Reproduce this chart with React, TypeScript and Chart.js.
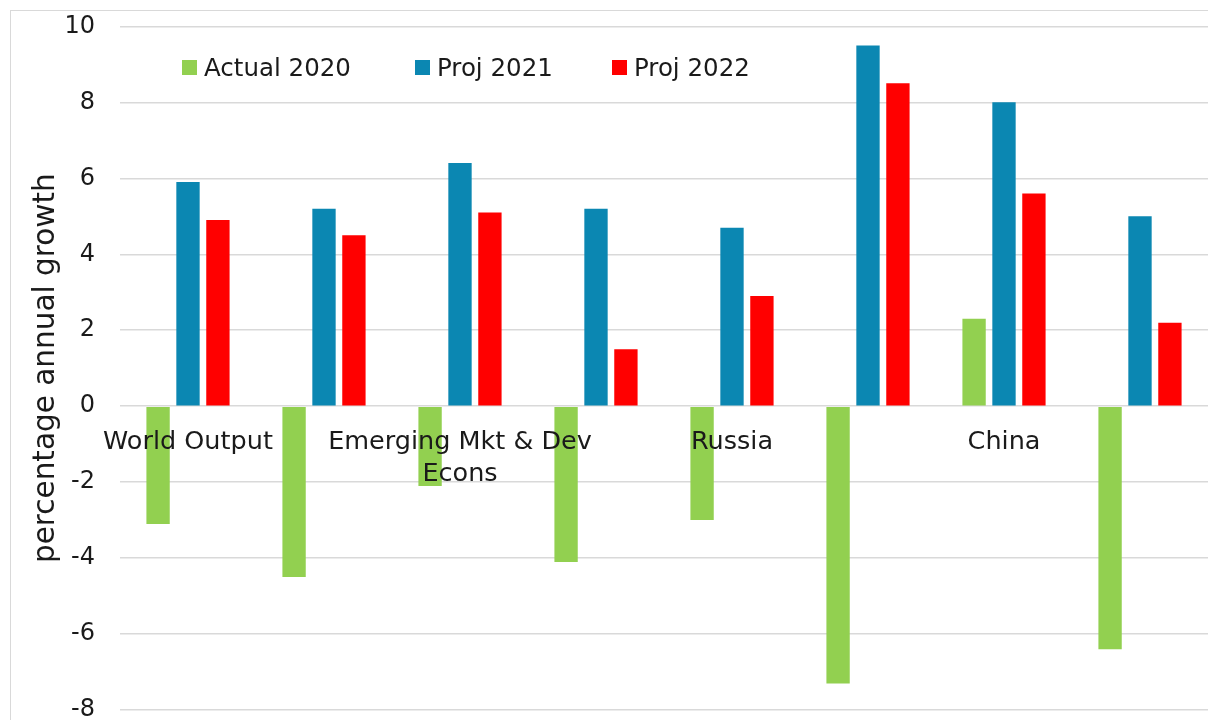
import React, { useEffect, useRef } from 'react';
import { Chart, registerables } from 'chart.js';

Chart.register(...registerables);

// ---- data ----
const categories: (string | string[])[] = [
  'World Output',
  '',
  ['Emerging Mkt & Dev', 'Econs'],
  '',
  'Russia',
  '',
  'China',
  '',
];
const seriesNames = ['Actual 2020', 'Proj 2021', 'Proj 2022'];
const actual2020 = [-3.1, -4.5, -2.1, -4.1, -3.0, -7.3, 2.3, -6.4];
const proj2021 = [5.9, 5.2, 6.4, 5.2, 4.7, 9.5, 8.0, 5.0];
const proj2022 = [4.9, 4.5, 5.1, 1.5, 2.9, 8.5, 5.6, 2.2];
const seriesColors = ['#92D050', '#0B87B2', '#FF0000'];
const yMin = -8;
const yMax = 10;
const yStep = 2;
const yTitle = 'percentage annual growth';

const FONT = "'DejaVu Sans', sans-serif";
const TEXT = '#1a1a1a';
const legendItemWidths = [233, 197, 150];

export default function App() {
  const ref = useRef<HTMLCanvasElement | null>(null);

  useEffect(() => {
    if (!ref.current) return;
    const values = [actual2020, proj2021, proj2022];
    const chart = new Chart(ref.current, {
      type: 'bar',
      data: {
        labels: categories as any,
        datasets: values.map((v, i) => ({
          label: seriesNames[i],
          data: v,
          backgroundColor: seriesColors[i],
          borderWidth: 0,
          categoryPercentage: 0.66,
          barPercentage: 0.78,
        })),
      },
      options: {
        animation: false,
        responsive: false,
        maintainAspectRatio: false,
        layout: { padding: { top: 15, bottom: 41, left: 0, right: 0 } },
        plugins: {
          legend: { display: false },
          tooltip: { enabled: false },
        },
        scales: {
          x: {
            position: { y: 0 } as any,
            grid: { display: false, drawTicks: false },
            border: { display: false },
            ticks: {
              z: 1,
              autoSkip: false,
              maxRotation: 0,
              minRotation: 0,
              padding: 20,
              color: TEXT,
              font: { family: FONT, size: 25.5, lineHeight: 1.25 },
            },
          },
          y: {
            min: yMin,
            max: yMax,
            afterFit: (scale: any) => {
              scale.width = 109;
            },
            ticks: {
              stepSize: yStep,
              padding: 25,
              color: TEXT,
              font: { family: FONT, size: 24 },
            },
            grid: { color: '#d9d9d9', lineWidth: 1.5, drawTicks: false },
            border: { display: false },
            title: {
              display: true,
              text: yTitle,
              color: TEXT,
              font: { family: FONT, size: 29.5 },
              padding: { top: 18, bottom: 0 },
            },
          },
        },
      },
    });
    return () => chart.destroy();
  }, []);

  return (
    <div
      style={{
        position: 'fixed',
        left: 10,
        top: 10,
        width: 1198,
        height: 710,
        borderLeft: '1px solid #d9d9d9',
        borderTop: '1px solid #d9d9d9',
        overflow: 'hidden',
        background: '#fff',
      }}
    >
      <canvas
        ref={ref}
        width={1197}
        height={764}
        style={{ display: 'block', marginTop: -24 }}
      />
      <div
        style={{
          position: 'absolute',
          left: 171,
          top: 41,
          height: 30,
          display: 'flex',
          alignItems: 'center',
          fontFamily: FONT,
          fontSize: 24.5,
          color: TEXT,
          whiteSpace: 'nowrap',
        }}
      >
        {seriesNames.map((name, i) => (
          <div
            key={name}
            style={{ display: 'flex', alignItems: 'center', width: legendItemWidths[i] }}
          >
            <span
              style={{
                display: 'inline-block',
                width: 15,
                height: 15,
                background: seriesColors[i],
                marginRight: 7,
              }}
            />
            <span>{name}</span>
          </div>
        ))}
      </div>
    </div>
  );
}
